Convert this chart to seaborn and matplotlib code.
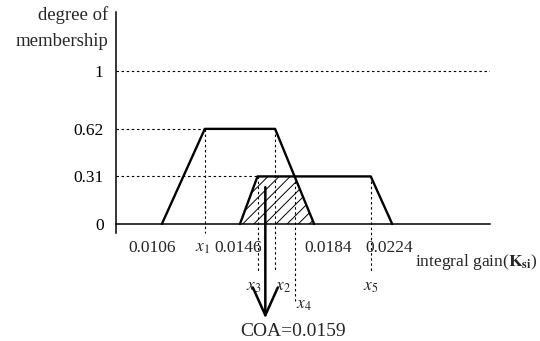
import matplotlib
matplotlib.use("Agg")
import matplotlib.pyplot as plt
import seaborn as sns


# ==========================================
# DATA
# ==========================================

# membership levels
levels = [0, 0.31, 0.62, 1]
level_labels = ["0", "0.31", "0.62", "1"]

# first trapezoid (membership 0.62)
trap1_x = [0.0106, 0.0128, 0.0164, 0.0184]
trap1_y = [0, 0.62, 0.62, 0]

# second trapezoid (membership 0.31)
trap2_x = [0.0146, 0.0155, 0.0213, 0.0224]
trap2_y = [0, 0.31, 0.31, 0]

# clipped (shaded) area
shade_x = [0.0146, 0.0155, 0.0174, 0.0184]
shade_y = [0, 0.31, 0.31, 0]

# named points x1..x5
point_names = ["$x_1$", "$x_2$", "$x_3$", "$x_4$", "$x_5$"]
point_x = [0.0128, 0.0164, 0.0155, 0.0174, 0.0213]
point_y = [0.62, 0.62, 0.31, 0.31, 0.31]

# numeric labels on the gain axis
gain_values = [0.0106, 0.0146, 0.0184, 0.0224]
gain_labels = ["0.0106", "0.0146", "0.0184", "0.0224"]

coa = 0.0159


# ==========================================
# STYLE
# ==========================================

sns.set_theme(style="white")
plt.rcParams["font.family"] = ["Liberation Serif", "DejaVu Serif"]
plt.rcParams["mathtext.fontset"] = "stix"
plt.rcParams["hatch.linewidth"] = 0.7

fig = plt.figure(figsize=(5.4, 3.41), dpi=100)
ax = fig.add_axes([116 / 540, 0, (490 - 116) / 540, 329 / 341])

x_left, x_right = 0.00825, 0.02741
ax.set_xlim(x_left, x_right)
ax.set_ylim(-0.763, 1.382)

dash = (0, (2.2, 2.4))


# ==========================================
# AXES
# ==========================================

for side in ["top", "right"]:
    ax.spines[side].set_visible(False)

ax.spines["left"].set_bounds(-0.06, 1.382)
ax.spines["bottom"].set_position(("data", 0))
ax.spines["bottom"].set_bounds(x_left, x_right)
for side in ["left", "bottom"]:
    ax.spines[side].set_color("black")
    ax.spines[side].set_linewidth(1.1)

ax.set_xticks([])
ax.set_yticks(levels)
ax.set_yticklabels(level_labels, fontsize=12.5)
ax.tick_params(axis="y", length=0, pad=9, colors="black")


# ==========================================
# GUIDE LINES
# ==========================================

ax.plot([x_left, x_right], [1, 1], color="black", lw=0.8, ls=dash)
ax.plot([x_left, point_x[0]], [0.62, 0.62], color="black", lw=0.8, ls=dash)
ax.plot([x_left, point_x[2]], [0.31, 0.31], color="black", lw=0.8, ls=dash)

line_bottoms = [-0.06, -0.30, -0.31, -0.50, -0.31]
for px, py, pb in zip(point_x, point_y, line_bottoms):
    ax.plot([px, px], [py, pb], color="black", lw=0.8, ls=dash)


# ==========================================
# MEMBERSHIP FUNCTIONS
# ==========================================

sns.lineplot(
    x=trap1_x, y=trap1_y, sort=False, estimator=None,
    color="black", lw=1.7, ax=ax
)
sns.lineplot(
    x=trap2_x, y=trap2_y, sort=False, estimator=None,
    color="black", lw=1.7, ax=ax
)
ax.fill(shade_x, shade_y, facecolor="none", edgecolor="black",
        hatch="///", lw=0)


# ==========================================
# COA ARROW
# ==========================================

ax.annotate(
    "", xy=(coa, -0.615), xytext=(coa, 0.24),
    arrowprops=dict(
        arrowstyle="->,head_length=1.0,head_width=0.45",
        mutation_scale=20, color="black", lw=1.8,
        shrinkA=0, shrinkB=0
    )
)
ax.text(0.01732, -0.704, "COA=0.0159", fontsize=14,
        ha="center", va="center")


# ==========================================
# TEXT LABELS
# ==========================================

tick_row = -0.156
gain_offsets = [-10, -2, 14, -3]
for gv, gl, off in zip(gain_values, gain_labels, gain_offsets):
    ax.annotate(gl, xy=(gv, tick_row), xytext=(off * 0.72, 0),
                textcoords="offset points", fontsize=12.5,
                ha="center", va="center")

name_pos = [
    (point_x[0], tick_row, "center", -2),
    (point_x[1], -0.41, "left", 0),
    (point_x[2], -0.41, "right", 4),
    (point_x[3], -0.53, "left", 1),
    (point_x[4], -0.41, "center", 0),
]
for name, (nx, ny, ha, off) in zip(point_names, name_pos):
    ax.annotate(name, xy=(nx, ny), xytext=(off * 0.72, 0),
                textcoords="offset points", fontsize=12.5,
                ha=ha, va="center")

fig.text(108 / 540, 1 - 15 / 341, "degree of", fontsize=13.5,
         ha="right", va="center")
fig.text(108 / 540, 1 - 42 / 341, "membership", fontsize=13.5,
         ha="right", va="center")
fig.text(538 / 540, 1 - 262 / 341, r"integral gain($\mathbf{K_{si}}$)",
         fontsize=12.5, ha="right", va="center")

fig.savefig("out.png", dpi=100)
